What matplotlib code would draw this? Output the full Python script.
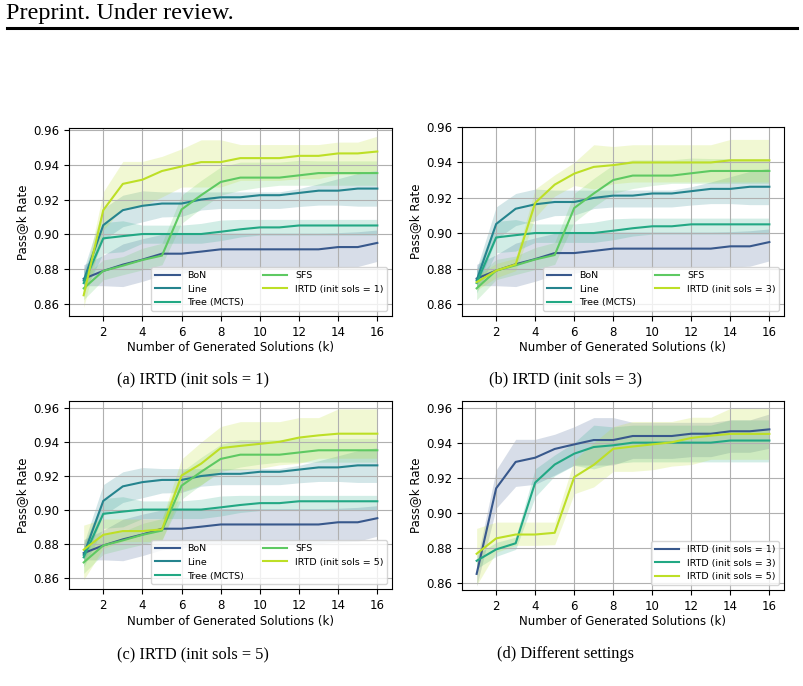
import numpy as np
import matplotlib
matplotlib.use('Agg')
import matplotlib.pyplot as plt
from matplotlib.lines import Line2D

plt.rcParams.update({
    'font.family': 'DejaVu Sans',
    'font.size': 8.5,
    'axes.linewidth': 0.8,
    'grid.color': '#b0b0b0',
    'grid.linewidth': 0.8,
})

k = np.arange(1, 17)

# baselines (same in panels a, b, c)
bon_mean = [0.8745, 0.879, 0.8826, 0.8855, 0.8889, 0.8889, 0.8901, 0.8914, 0.8914, 0.8914, 0.8914, 0.8914, 0.8914, 0.8927, 0.8927, 0.8951]
bon_lo = [0.8705, 0.8705, 0.8700, 0.8730, 0.8765, 0.8775, 0.8795, 0.8800, 0.8800, 0.8800, 0.8800, 0.8800, 0.8800, 0.8810, 0.8815, 0.8845]
bon_hi = [0.8825, 0.8880, 0.8945, 0.8975, 0.9000, 0.9003, 0.9005, 0.9008, 0.9008, 0.9008, 0.9008, 0.9008, 0.9008, 0.9010, 0.9015, 0.9025]

line_mean = [0.8735, 0.9053, 0.9139, 0.9164, 0.9177, 0.9177, 0.9200, 0.9213, 0.9213, 0.9225, 0.9225, 0.9238, 0.9251, 0.9251, 0.9263, 0.9263]
line_lo = [0.8690, 0.8968, 0.9044, 0.9072, 0.9100, 0.9103, 0.9140, 0.9149, 0.9149, 0.9149, 0.9149, 0.9160, 0.9168, 0.9168, 0.9162, 0.9162]
line_hi = [0.8800, 0.9149, 0.9225, 0.9250, 0.9244, 0.9244, 0.9244, 0.9244, 0.9244, 0.9244, 0.9244, 0.9263, 0.9290, 0.9320, 0.9350, 0.9368]

tree_mean = [0.8720, 0.8977, 0.8990, 0.9002, 0.9002, 0.9002, 0.9002, 0.9015, 0.9029, 0.9040, 0.9040, 0.9051, 0.9051, 0.9051, 0.9051, 0.9051]
tree_lo = [0.8663, 0.8891, 0.8900, 0.8949, 0.8949, 0.8949, 0.8949, 0.8964, 0.8985, 0.8996, 0.8996, 0.8996, 0.8996, 0.8996, 0.8996, 0.8996]
tree_hi = [0.8790, 0.9067, 0.9078, 0.9053, 0.9053, 0.9053, 0.9063, 0.9082, 0.9086, 0.9086, 0.9086, 0.9086, 0.9086, 0.9086, 0.9086, 0.9086]

sfs_mean = [0.8690, 0.8790, 0.8820, 0.8853, 0.8878, 0.9143, 0.9225, 0.9301, 0.9326, 0.9326, 0.9326, 0.9339, 0.9352, 0.9352, 0.9352, 0.9352]
sfs_lo = [0.8625, 0.8739, 0.8768, 0.8796, 0.8825, 0.9063, 0.9149, 0.9225, 0.9253, 0.9270, 0.9282, 0.9282, 0.9282, 0.9282, 0.9282, 0.9282]
sfs_hi = [0.8758, 0.8853, 0.8872, 0.8920, 0.8949, 0.9225, 0.9310, 0.9387, 0.9415, 0.9415, 0.9415, 0.9425, 0.9422, 0.9422, 0.9422, 0.9422]

# IRTD with different numbers of initial solutions
irtd1_mean = [0.8650, 0.9139, 0.9290, 0.9314, 0.9364, 0.9390, 0.9415, 0.9415, 0.9438, 0.9438, 0.9438, 0.9451, 0.9451, 0.9465, 0.9465, 0.9476]
irtd1_lo = [0.8580, 0.9025, 0.9150, 0.9162, 0.9215, 0.9272, 0.9272, 0.9272, 0.9310, 0.9310, 0.9310, 0.9320, 0.9320, 0.9345, 0.9345, 0.9368]
irtd1_hi = [0.8720, 0.9244, 0.9419, 0.9419, 0.9448, 0.9491, 0.9543, 0.9543, 0.9516, 0.9516, 0.9516, 0.9516, 0.9516, 0.9530, 0.9530, 0.9564]

irtd3_mean = [0.8725, 0.8790, 0.8825, 0.9172, 0.9275, 0.9337, 0.9375, 0.9385, 0.9400, 0.9400, 0.9400, 0.9400, 0.9400, 0.9412, 0.9412, 0.9412]
irtd3_lo = [0.8680, 0.8750, 0.8790, 0.9090, 0.9210, 0.9270, 0.9250, 0.9280, 0.9290, 0.9290, 0.9290, 0.9290, 0.9290, 0.9290, 0.9290, 0.9290]
irtd3_hi = [0.8760, 0.8830, 0.8860, 0.9250, 0.9330, 0.9400, 0.9500, 0.9490, 0.9500, 0.9500, 0.9500, 0.9500, 0.9500, 0.9530, 0.9530, 0.9530]

irtd5_mean = [0.8765, 0.8853, 0.8875, 0.8875, 0.8885, 0.9203, 0.9273, 0.9365, 0.9378, 0.9390, 0.9402, 0.9427, 0.9440, 0.9450, 0.9450, 0.9450]
irtd5_lo = [0.8586, 0.8773, 0.8813, 0.8813, 0.8817, 0.9108, 0.9147, 0.9236, 0.9236, 0.9245, 0.9266, 0.9275, 0.9305, 0.9305, 0.9305, 0.9305]
irtd5_hi = [0.8910, 0.8946, 0.8946, 0.8946, 0.8946, 0.9300, 0.9400, 0.9492, 0.9521, 0.9521, 0.9521, 0.9545, 0.9545, 0.9596, 0.9596, 0.9596]

baselines = [
    ('BoN', bon_mean, bon_lo, bon_hi),
    ('Line', line_mean, line_lo, line_hi),
    ('Tree (MCTS)', tree_mean, tree_lo, tree_hi),
    ('SFS', sfs_mean, sfs_lo, sfs_hi),
]
irtd_runs = [
    ('IRTD (init sols = 1)', irtd1_mean, irtd1_lo, irtd1_hi),
    ('IRTD (init sols = 3)', irtd3_mean, irtd3_lo, irtd3_hi),
    ('IRTD (init sols = 5)', irtd5_mean, irtd5_lo, irtd5_hi),
]

cmap = plt.get_cmap('viridis')
five_cols = [cmap(v) for v in (0.27, 0.45, 0.6, 0.75, 0.9)]
three_cols = [cmap(v) for v in (0.27, 0.6, 0.9)]

captions = ['(a) IRTD (init sols = 1)', '(b) IRTD (init sols = 3)',
            '(c) IRTD (init sols = 5)', '(d) Different settings']
ylims = [(0.8531, 0.9611), (0.8534, 0.9579), (0.8533, 0.9643), (0.8558, 0.9638)]

fig = plt.figure(figsize=(8.04, 6.86), dpi=100)

# page header
fig.text(6 / 804, 1 - 14 / 686, 'Preprint. Under review.', family='Liberation Serif',
         fontsize=17.5, ha='left', va='center')
fig.add_artist(Line2D([7 / 804, 797 / 804], [1 - 28 / 686, 1 - 28 / 686],
                      color='black', linewidth=2.2, transform=fig.transFigure))

boxes = [
    (69 / 804, 1 - 316 / 686, 323 / 804, 188 / 686),
    (462 / 804, 1 - 316 / 686, 322 / 804, 189 / 686),
    (69 / 804, 1 - 589 / 686, 323 / 804, 188 / 686),
    (462 / 804, 1 - 590 / 686, 322 / 804, 189 / 686),
]
cap_pos = [(193, 379), (566, 379), (193, 654), (566, 654)]


def draw(ax, series, cols):
    for (name, m, lo, hi), c in zip(series, cols):
        ax.fill_between(k, lo, hi, color=c, alpha=0.2, linewidth=0)
        ax.plot(k, m, color=c, linewidth=1.5, label=name)


for i, box in enumerate(boxes):
    ax = fig.add_axes(box)
    if i < 3:
        draw(ax, baselines + [irtd_runs[i]], five_cols)
        ax.legend(loc='lower right', ncol=2, fontsize=6.8, handlelength=2.6,
                  columnspacing=2.0)
    else:
        draw(ax, irtd_runs, three_cols)
        ax.legend(loc='lower right', fontsize=6.8, handlelength=2.6)
    ax.set_xlim(0.25, 16.75)
    ax.set_ylim(*ylims[i])
    ax.set_xticks(range(2, 17, 2))
    ax.set_yticks(np.arange(0.86, 0.961, 0.02))
    ax.yaxis.set_major_formatter(plt.FuncFormatter(lambda v, _: f'{v:.2f}'))
    ax.grid(True)
    ax.set_xlabel('Number of Generated Solutions (k)', labelpad=2)
    ax.set_ylabel('Pass@k Rate', labelpad=3)
    cx, cy = cap_pos[i]
    fig.text(cx / 804, 1 - cy / 686, captions[i], family='Liberation Serif',
             fontsize=11.8, ha='center', va='center')

fig.savefig('out.png', dpi=100)
